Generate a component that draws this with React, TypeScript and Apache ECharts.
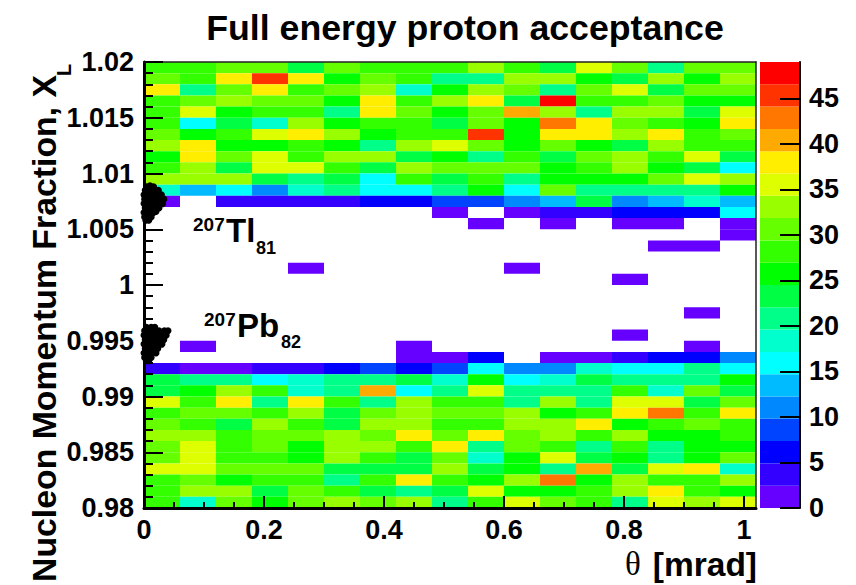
import React, { useEffect, useRef } from "react";
import * as echarts from "echarts";

const FONT = '"Liberation Sans", Arial, sans-serif';

// Counts per theta bin, from the top row (X_L 1.019-1.020) to the bottom row (0.980-0.981)
const col00 = [28,31,38,28,28,28,31,33,26,28,33,19,1, 0,0,0,0,0,0,0,0,0,0,0,0,0,0, 4,24,24,36,28,31,33,31,31,36,28,28,28];
const col01 = [28,28,21,31,36,16,26,38,38,33,33,14,0, 0,0,0,0,0,0,0,0,0,0,0,0,1,0, 1,21,26,28,31,28,33,36,36,36,31,33,19];
const col02 = [31,38,31,33,26,24,28,26,31,24,33,16,4, 0,0,0,0,0,0,0,0,0,0,0,0,0,0, 1,21,33,38,31,24,28,28,28,31,26,33,31];
const col03 = [31,46,38,31,28,19,36,26,36,36,24,11,4, 0,0,0,0,0,0,0,0,0,0,0,0,0,0, 4,16,28,21,28,33,31,31,28,31,28,24,26];
const col04 = [24,38,28,31,28,33,38,28,28,36,21,19,4, 0,0,0,0,0,1,0,0,0,0,0,0,0,0, 4,19,19,38,33,28,31,26,26,31,28,31,31];
const col05 = [31,26,31,26,21,26,33,26,33,28,24,21,4, 0,0,0,0,0,0,0,0,0,0,0,0,0,0, 6,21,21,28,24,24,33,33,33,24,21,28,33];
const col06 = [28,31,33,38,38,28,26,21,33,24,16,16,6, 0,0,0,0,0,0,0,0,0,0,0,0,0,0, 9,21,40,21,31,33,31,33,28,24,28,24,31];
const col07 = [28,28,19,28,31,28,28,33,24,33,28,16,6, 0,0,0,0,0,0,0,0,0,0,0,0,1,1, 6,24,16,33,33,33,38,28,24,24,38,21,33];
const col08 = [28,21,26,33,26,24,28,36,26,31,24,21,9, 1,0,0,0,0,0,0,0,0,0,0,0,0,1, 9,19,21,28,31,28,31,38,31,33,28,24,21];
const col09 = [33,21,33,38,31,31,46,31,21,31,28,26,9, 0,1,0,0,0,0,0,0,0,0,0,0,0,6, 16,26,36,28,31,28,38,21,19,24,26,36,28];
const col10 = [28,33,31,24,40,26,26,26,28,31,21,16,11, 1,0,0,0,0,1,0,0,0,0,0,0,0,0, 11,16,21,21,33,33,31,31,26,26,33,26,36];
const col11 = [24,33,21,48,33,43,38,31,24,26,26,31,14, 4,1,0,0,0,0,0,0,0,0,0,0,0,1, 11,19,21,33,26,33,33,28,36,21,43,26,31];
const col12 = [36,26,31,28,21,38,38,26,31,28,26,21,24, 4,0,0,0,0,0,0,0,0,0,0,0,0,1, 19,24,21,21,28,38,28,21,24,40,26,28,28];
const col13 = [31,24,36,28,33,31,33,24,33,33,26,21,11, 6,1,0,0,0,0,1,0,0,0,0,1,0,4, 16,21,28,36,38,26,33,28,26,24,33,33,21];
const col14 = [21,33,24,31,33,28,38,33,28,26,31,21,14, 6,1,0,1,0,0,0,0,0,0,0,0,0,6, 16,21,19,36,43,28,26,21,21,36,28,38,36];
const col15 = [31,26,31,26,24,26,28,28,36,24,36,21,19, 6,0,0,1,0,0,0,0,0,1,0,0,1,6, 21,21,31,24,28,31,26,26,26,38,28,28,33];
const col16 = [31,33,31,26,36,38,31,28,24,16,33,26,14, 16,1,1,0,0,0,0,0,0,0,0,0,0,11, 16,26,24,31,38,28,28,26,31,19,33,26,36];
const columns = [col00,col01,col02,col03,col04,col05,col06,col07,col08,col09,col10,col11,col12,col13,col14,col15,col16];

const thetaBinWidth = 0.06;
const xlBinWidth = 0.001;
const xlTop = 1.02;
const maxCount = 49;

const palette = [
  "#6600ff","#3300ff","#0000ff","#0044ff","#0088ff","#00bbff","#00ffff","#00ffcc","#00ff88","#00ff44",
  "#00ff00","#33ff00","#66ff00","#99ff00","#ddff00","#ffee00","#ffaa00","#ff7700","#ff3300","#ff0000",
];

// Points: [theta, X_L]
const tlPoints = [
  [.004,1.0088],[.010,1.0089],[.016,1.0088],
  [.002,1.0085],[.010,1.0085],[.018,1.0084],[.024,1.0085],
  [.000,1.0081],[.008,1.0081],[.016,1.0081],[.023,1.0081],[.029,1.0081],
  [.001,1.0077],[.009,1.0077],[.018,1.0077],[.026,1.0077],[.033,1.0077],
  [.000,1.0073],[.007,1.0073],[.015,1.0073],[.023,1.0073],[.031,1.0073],
  [.002,1.0069],[.011,1.0069],[.019,1.0069],[.025,1.0069],
  [.000,1.0065],[.008,1.0065],[.016,1.0065],[.020,1.0066],
  [.001,1.0061],[.007,1.0061],[.012,1.0061],
  [.003,1.0058],[.008,1.0058],
];
const pbPoints = [
  [.004,.9962],[.012,.9962],[.018,.9962],
  [.001,.9959],[.009,.9959],[.017,.9959],[.025,.9959],[.034,.9959],[.040,.9959],
  [.000,.9955],[.008,.9955],[.016,.9955],[.024,.9955],[.032,.9955],[.037,.9955],
  [.002,.9951],[.010,.9951],[.018,.9951],[.026,.9951],[.033,.9951],
  [.000,.9947],[.008,.9947],[.016,.9947],[.024,.9947],[.030,.9947],
  [.002,.9943],[.010,.9943],[.018,.9943],[.023,.9943],
  [.000,.9939],[.007,.9939],[.014,.9939],[.020,.9939],
  [.001,.9935],[.006,.9935],[.012,.9935],
  [.004,.9932],[.008,.9932],
];

const xMajorTicks = [0, 0.2, 0.4, 0.6, 0.8, 1];
const xMinorTicks = [0.05,0.1,0.15,0.25,0.3,0.35,0.45,0.5,0.55,0.65,0.7,0.75,0.85,0.9,0.95];
const yMajorTicks = [0.98,0.985,0.99,0.995,1,1.005,1.01,1.015,1.02];
const yMinorTicks = [
  0.981,0.982,0.983,0.984,0.986,0.987,0.988,0.989,0.991,0.992,0.993,0.994,0.996,0.997,0.998,0.999,
  1.001,1.002,1.003,1.004,1.006,1.007,1.008,1.009,1.011,1.012,1.013,1.014,1.016,1.017,1.018,1.019,
];
const zTicks = [0,5,10,15,20,25,30,35,40,45];

const BLACK = "#000";
const labelStyle = { color: BLACK, fontFamily: FONT, fontWeight: "bold" as const, fontSize: 27 };

function bandOf(v: number) {
  return Math.min(palette.length - 1, Math.floor(v / (maxCount / palette.length)));
}

const cells: number[][] = [];
columns.forEach((col, ix) => {
  col.forEach((v, ir) => {
    if (v > 0) {
      const yHi = xlTop - ir * xlBinWidth;
      cells.push([ix * thetaBinWidth, (ix + 1) * thetaBinWidth, yHi - xlBinWidth, yHi, v]);
    }
  });
});
const barBands = palette.map((_, i) => [0, 1, (i * maxCount) / palette.length, ((i + 1) * maxCount) / palette.length, i]);

function rectItem(params: any, api: any, fill: string) {
  const a = api.coord([api.value(0), api.value(3)]);
  const b = api.coord([api.value(1), api.value(2)]);
  return {
    type: "rect",
    shape: { x: a[0], y: a[1], width: b[0] - a[0], height: b[1] - a[1] },
    style: { fill },
  };
}

const hiddenAxisBits = {
  axisLabel: { show: false },
  splitLine: { show: false },
};

function txt(text: string, x: number, y: number, size: number, extra: any = {}) {
  return {
    type: "text",
    x,
    y,
    z: 20,
    ...extra,
    style: { text, fill: BLACK, font: `bold ${size}px ${FONT}`, textVerticalAlign: "top", ...(extra.style || {}) },
  };
}

export default function App() {
  const ref = useRef<HTMLDivElement>(null);
  useEffect(() => {
    const chart = echarts.init(ref.current!, undefined, { renderer: "svg" });
    chart.setOption({
      animation: false,
      backgroundColor: "#fff",
      title: {
        text: "Full energy proton acceptance",
        left: 460,
        top: 5,
        textAlign: "center",
        textStyle: { color: BLACK, fontFamily: FONT, fontWeight: "bold", fontSize: 35.7 },
      },
      grid: [
        { left: 144, top: 62, width: 612, height: 446 },
        { left: 760, top: 62, width: 40, height: 446 },
      ],
      xAxis: [
        {
          type: "value", gridIndex: 0, position: "bottom", min: 0, max: 1.02, z: 5,
          axisLine: { onZero: false, lineStyle: { color: BLACK, width: 3 } },
          axisTick: { inside: true, length: 12, lineStyle: { color: BLACK, width: 2 }, customValues: xMajorTicks },
          axisLabel: { ...labelStyle, margin: 8, customValues: xMajorTicks, formatter: (v: number) => String(v) },
          splitLine: { show: false },
        },
        {
          type: "value", gridIndex: 0, position: "bottom", min: 0, max: 1.02, z: 5,
          axisLine: { show: false, onZero: false },
          axisTick: { inside: true, length: 6, lineStyle: { color: BLACK, width: 2 }, customValues: xMinorTicks },
          ...hiddenAxisBits,
        },
        {
          type: "value", gridIndex: 0, position: "top", min: 0, max: 1.02, z: 5,
          axisLine: { onZero: false, lineStyle: { color: "#222", width: 1.5 } },
          axisTick: { show: false },
          ...hiddenAxisBits,
        },
        {
          type: "value", gridIndex: 1, position: "bottom", min: 0, max: 1, show: false,
          splitLine: { show: false },
        },
      ],
      yAxis: [
        {
          type: "value", gridIndex: 0, position: "left", min: 0.98, max: 1.02, z: 5,
          axisLine: { onZero: false, lineStyle: { color: BLACK, width: 3 } },
          axisTick: { inside: true, length: 19, lineStyle: { color: BLACK, width: 2 }, customValues: yMajorTicks },
          axisLabel: { ...labelStyle, margin: 10, customValues: yMajorTicks, formatter: (v: number) => String(+v.toFixed(3)) },
          splitLine: { show: false },
        },
        {
          type: "value", gridIndex: 0, position: "left", min: 0.98, max: 1.02, z: 5,
          axisLine: { show: false, onZero: false },
          axisTick: { inside: true, length: 9, lineStyle: { color: BLACK, width: 2 }, customValues: yMinorTicks },
          ...hiddenAxisBits,
        },
        {
          type: "value", gridIndex: 0, position: "right", min: 0.98, max: 1.02, z: 5,
          axisLine: { onZero: false, lineStyle: { color: "#222", width: 1.5 } },
          axisTick: { show: false },
          ...hiddenAxisBits,
        },
        {
          type: "value", gridIndex: 1, position: "right", min: 0, max: maxCount, z: 5,
          axisLine: { onZero: false, lineStyle: { color: BLACK, width: 2 } },
          axisTick: { inside: true, length: 20, lineStyle: { color: BLACK, width: 2 }, customValues: zTicks },
          axisLabel: { ...labelStyle, margin: 9, customValues: zTicks },
          splitLine: { show: false },
        },
      ],
      series: [
        {
          type: "custom",
          xAxisIndex: 0,
          yAxisIndex: 0,
          data: cells,
          encode: { x: [0, 1], y: [2, 3] },
          clip: false,
          renderItem: (p: any, api: any) => rectItem(p, api, palette[bandOf(api.value(4))]),
        },
        {
          type: "custom",
          xAxisIndex: 3,
          yAxisIndex: 3,
          data: barBands,
          encode: { x: [0, 1], y: [2, 3] },
          renderItem: (p: any, api: any) => rectItem(p, api, palette[api.value(4)]),
        },
        { type: "scatter", name: "207Tl", xAxisIndex: 0, yAxisIndex: 0, data: tlPoints, symbolSize: 7, z: 10, clip: false, itemStyle: { color: BLACK, opacity: 1 } },
        { type: "scatter", name: "207Pb", xAxisIndex: 0, yAxisIndex: 0, data: pbPoints, symbolSize: 7, z: 10, clip: false, itemStyle: { color: BLACK, opacity: 1 } },
      ],
      graphic: [
        txt("207", 193, 215, 19),
        txt("Tl", 226, 214, 33),
        txt("81", 256, 239, 18),
        txt("207", 204, 310, 19),
        txt("Pb", 237, 309, 33),
        txt("82", 281, 333, 18),
        txt("Nucleon Momentum Fraction, X", 27, 582, 33.8, { rotation: Math.PI / 2 }),
        txt("L", 54, 76, 20, { rotation: Math.PI / 2 }),
        {
          type: "text",
          x: 757,
          y: 547,
          z: 20,
          style: {
            text: "{t|θ}{b|[mrad]}",
            align: "right",
            rich: {
              t: { font: `33px "Liberation Serif", serif`, fill: BLACK, padding: [0, 12, 0, 0] },
              b: { font: `bold 33.5px ${FONT}`, fill: BLACK },
            },
          },
        },
      ],
    });
    return () => chart.dispose();
  }, []);
  return <div ref={ref} style={{ position: "fixed", left: 0, top: 0, width: 856, height: 585 }} />;
}
